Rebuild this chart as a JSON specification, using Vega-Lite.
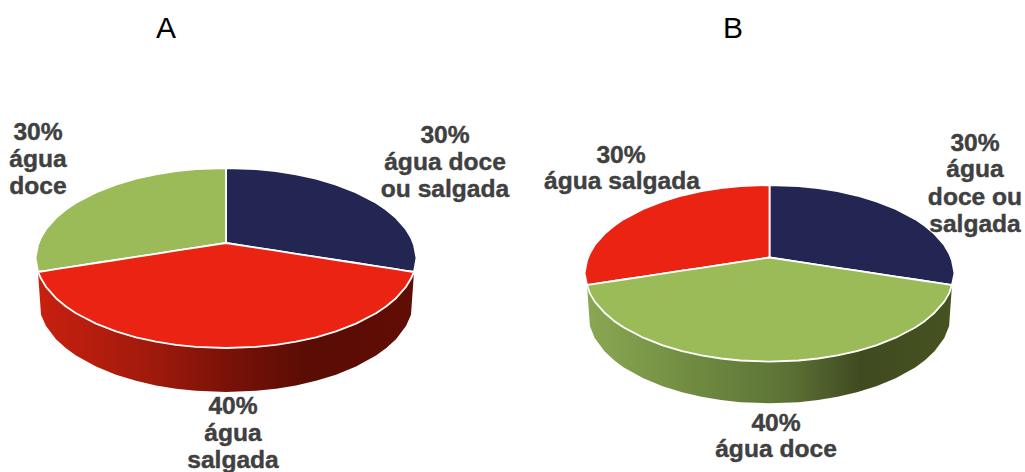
{
  "$schema": "https://vega.github.io/schema/vega-lite/v6.json",
  "width": 1025,
  "height": 472,
  "autosize": "none",
  "padding": 0,
  "background": "white",
  "view": {"stroke": null},
  "config": {"axis": {"disable": true}},
  "datasets": {
    "faces": [
      {"pie":"A","name":"água doce ou salgada","share":30,"x":226,"top":168,"bottom":243},
      {"pie":"A","name":"água doce ou salgada","share":30,"x":256,"top":169.1,"bottom":247.6},
      {"pie":"A","name":"água doce ou salgada","share":30,"x":276,"top":171.2,"bottom":250.7},
      {"pie":"A","name":"água doce ou salgada","share":30,"x":296,"top":174.3,"bottom":253.8},
      {"pie":"A","name":"água doce ou salgada","share":30,"x":316,"top":178.7,"bottom":256.9},
      {"pie":"A","name":"água doce ou salgada","share":30,"x":336,"top":184.6,"bottom":260},
      {"pie":"A","name":"água doce ou salgada","share":30,"x":356,"top":192.4,"bottom":263},
      {"pie":"A","name":"água doce ou salgada","share":30,"x":376,"top":202.8,"bottom":266.1},
      {"pie":"A","name":"água doce ou salgada","share":30,"x":386,"top":209.5,"bottom":267.6},
      {"pie":"A","name":"água doce ou salgada","share":30,"x":396,"top":217.8,"bottom":269.2},
      {"pie":"A","name":"água doce ou salgada","share":30,"x":406,"top":229.2,"bottom":270.8},
      {"pie":"A","name":"água doce ou salgada","share":30,"x":411,"top":237.5,"bottom":271.5},
      {"pie":"A","name":"água doce ou salgada","share":30,"x":414,"top":245,"bottom":272},
      {"pie":"A","name":"água doce ou salgada","share":30,"x":416.5,"top":258,"bottom":258},

      {"pie":"A","name":"água doce","share":30,"x":35.5,"top":258,"bottom":258},
      {"pie":"A","name":"água doce","share":30,"x":38,"top":245,"bottom":272},
      {"pie":"A","name":"água doce","share":30,"x":41,"top":237.5,"bottom":271.5},
      {"pie":"A","name":"água doce","share":30,"x":46,"top":229.2,"bottom":270.8},
      {"pie":"A","name":"água doce","share":30,"x":56,"top":217.8,"bottom":269.2},
      {"pie":"A","name":"água doce","share":30,"x":66,"top":209.5,"bottom":267.6},
      {"pie":"A","name":"água doce","share":30,"x":76,"top":202.8,"bottom":266.1},
      {"pie":"A","name":"água doce","share":30,"x":96,"top":192.4,"bottom":263},
      {"pie":"A","name":"água doce","share":30,"x":116,"top":184.6,"bottom":260},
      {"pie":"A","name":"água doce","share":30,"x":136,"top":178.7,"bottom":256.9},
      {"pie":"A","name":"água doce","share":30,"x":156,"top":174.3,"bottom":253.8},
      {"pie":"A","name":"água doce","share":30,"x":176,"top":171.2,"bottom":250.7},
      {"pie":"A","name":"água doce","share":30,"x":196,"top":169.1,"bottom":247.6},
      {"pie":"A","name":"água doce","share":30,"x":226,"top":168,"bottom":243},

      {"pie":"A","name":"água salgada","share":40,"x":38,"top":272,"bottom":272},
      {"pie":"A","name":"água salgada","share":40,"x":41,"top":271.5,"bottom":278.5},
      {"pie":"A","name":"água salgada","share":40,"x":46,"top":270.8,"bottom":286.8},
      {"pie":"A","name":"água salgada","share":40,"x":56,"top":269.2,"bottom":298.2},
      {"pie":"A","name":"água salgada","share":40,"x":66,"top":267.6,"bottom":306.5},
      {"pie":"A","name":"água salgada","share":40,"x":76,"top":266.1,"bottom":313.2},
      {"pie":"A","name":"água salgada","share":40,"x":96,"top":263,"bottom":323.6},
      {"pie":"A","name":"água salgada","share":40,"x":116,"top":260,"bottom":331.4},
      {"pie":"A","name":"água salgada","share":40,"x":136,"top":256.9,"bottom":337.3},
      {"pie":"A","name":"água salgada","share":40,"x":156,"top":253.8,"bottom":341.7},
      {"pie":"A","name":"água salgada","share":40,"x":176,"top":250.7,"bottom":344.8},
      {"pie":"A","name":"água salgada","share":40,"x":196,"top":247.6,"bottom":346.9},
      {"pie":"A","name":"água salgada","share":40,"x":226,"top":243,"bottom":348},
      {"pie":"A","name":"água salgada","share":40,"x":256,"top":247.6,"bottom":346.9},
      {"pie":"A","name":"água salgada","share":40,"x":276,"top":250.7,"bottom":344.8},
      {"pie":"A","name":"água salgada","share":40,"x":296,"top":253.8,"bottom":341.7},
      {"pie":"A","name":"água salgada","share":40,"x":316,"top":256.9,"bottom":337.3},
      {"pie":"A","name":"água salgada","share":40,"x":336,"top":260,"bottom":331.4},
      {"pie":"A","name":"água salgada","share":40,"x":356,"top":263,"bottom":323.6},
      {"pie":"A","name":"água salgada","share":40,"x":376,"top":266.1,"bottom":313.2},
      {"pie":"A","name":"água salgada","share":40,"x":386,"top":267.6,"bottom":306.5},
      {"pie":"A","name":"água salgada","share":40,"x":396,"top":269.2,"bottom":298.2},
      {"pie":"A","name":"água salgada","share":40,"x":406,"top":270.8,"bottom":286.8},
      {"pie":"A","name":"água salgada","share":40,"x":411,"top":271.5,"bottom":278.5},
      {"pie":"A","name":"água salgada","share":40,"x":414,"top":272,"bottom":272},

      {"pie":"B","name":"água doce ou salgada","share":30,"x":769.5,"top":185,"bottom":257.5},
      {"pie":"B","name":"água doce ou salgada","share":30,"x":798.6,"top":186.1,"bottom":261.9},
      {"pie":"B","name":"água doce ou salgada","share":30,"x":818.1,"top":188.1,"bottom":264.8},
      {"pie":"B","name":"água doce ou salgada","share":30,"x":837.5,"top":191.2,"bottom":267.8},
      {"pie":"B","name":"água doce ou salgada","share":30,"x":856.9,"top":195.5,"bottom":270.7},
      {"pie":"B","name":"água doce ou salgada","share":30,"x":876.3,"top":201.3,"bottom":273.6},
      {"pie":"B","name":"água doce ou salgada","share":30,"x":895.7,"top":208.9,"bottom":276.6},
      {"pie":"B","name":"água doce ou salgada","share":30,"x":915.2,"top":219.1,"bottom":279.5},
      {"pie":"B","name":"água doce ou salgada","share":30,"x":924.9,"top":225.7,"bottom":281},
      {"pie":"B","name":"água doce ou salgada","share":30,"x":934.5,"top":233.9,"bottom":282.4},
      {"pie":"B","name":"água doce ou salgada","share":30,"x":944.3,"top":245,"bottom":283.9},
      {"pie":"B","name":"água doce ou salgada","share":30,"x":949.1,"top":253.2,"bottom":284.6},
      {"pie":"B","name":"água doce ou salgada","share":30,"x":952,"top":260.5,"bottom":285},
      {"pie":"B","name":"água doce ou salgada","share":30,"x":954.5,"top":273.3,"bottom":273.3},

      {"pie":"B","name":"água salgada","share":30,"x":584.5,"top":273.3,"bottom":273.3},
      {"pie":"B","name":"água salgada","share":30,"x":587,"top":260.5,"bottom":285},
      {"pie":"B","name":"água salgada","share":30,"x":589.9,"top":253.2,"bottom":284.6},
      {"pie":"B","name":"água salgada","share":30,"x":594.7,"top":245,"bottom":283.9},
      {"pie":"B","name":"água salgada","share":30,"x":604.5,"top":233.9,"bottom":282.4},
      {"pie":"B","name":"água salgada","share":30,"x":614.1,"top":225.7,"bottom":281},
      {"pie":"B","name":"água salgada","share":30,"x":623.8,"top":219.1,"bottom":279.5},
      {"pie":"B","name":"água salgada","share":30,"x":643.3,"top":208.9,"bottom":276.6},
      {"pie":"B","name":"água salgada","share":30,"x":662.7,"top":201.3,"bottom":273.6},
      {"pie":"B","name":"água salgada","share":30,"x":682.1,"top":195.5,"bottom":270.7},
      {"pie":"B","name":"água salgada","share":30,"x":701.5,"top":191.2,"bottom":267.8},
      {"pie":"B","name":"água salgada","share":30,"x":720.9,"top":188.1,"bottom":264.8},
      {"pie":"B","name":"água salgada","share":30,"x":740.4,"top":186.1,"bottom":261.9},
      {"pie":"B","name":"água salgada","share":30,"x":769.5,"top":185,"bottom":257.5},

      {"pie":"B","name":"água doce","share":40,"x":587,"top":285,"bottom":285},
      {"pie":"B","name":"água doce","share":40,"x":589.9,"top":284.6,"bottom":293.4},
      {"pie":"B","name":"água doce","share":40,"x":594.7,"top":283.9,"bottom":301.6},
      {"pie":"B","name":"água doce","share":40,"x":604.5,"top":282.4,"bottom":312.7},
      {"pie":"B","name":"água doce","share":40,"x":614.1,"top":281,"bottom":320.9},
      {"pie":"B","name":"água doce","share":40,"x":623.8,"top":279.5,"bottom":327.5},
      {"pie":"B","name":"água doce","share":40,"x":643.3,"top":276.6,"bottom":337.7},
      {"pie":"B","name":"água doce","share":40,"x":662.7,"top":273.6,"bottom":345.3},
      {"pie":"B","name":"água doce","share":40,"x":682.1,"top":270.7,"bottom":351.1},
      {"pie":"B","name":"água doce","share":40,"x":701.5,"top":267.8,"bottom":355.4},
      {"pie":"B","name":"água doce","share":40,"x":720.9,"top":264.8,"bottom":358.5},
      {"pie":"B","name":"água doce","share":40,"x":740.4,"top":261.9,"bottom":360.5},
      {"pie":"B","name":"água doce","share":40,"x":769.5,"top":257.5,"bottom":361.6},
      {"pie":"B","name":"água doce","share":40,"x":798.6,"top":261.9,"bottom":360.5},
      {"pie":"B","name":"água doce","share":40,"x":818.1,"top":264.8,"bottom":358.5},
      {"pie":"B","name":"água doce","share":40,"x":837.5,"top":267.8,"bottom":355.4},
      {"pie":"B","name":"água doce","share":40,"x":856.9,"top":270.7,"bottom":351.1},
      {"pie":"B","name":"água doce","share":40,"x":876.3,"top":273.6,"bottom":345.3},
      {"pie":"B","name":"água doce","share":40,"x":895.7,"top":276.6,"bottom":337.7},
      {"pie":"B","name":"água doce","share":40,"x":915.2,"top":279.5,"bottom":327.5},
      {"pie":"B","name":"água doce","share":40,"x":924.9,"top":281,"bottom":320.9},
      {"pie":"B","name":"água doce","share":40,"x":934.5,"top":282.4,"bottom":312.7},
      {"pie":"B","name":"água doce","share":40,"x":944.3,"top":283.9,"bottom":301.6},
      {"pie":"B","name":"água doce","share":40,"x":949.1,"top":284.6,"bottom":293.4},
      {"pie":"B","name":"água doce","share":40,"x":952,"top":285,"bottom":285}
    ],
    "wallA": [
      {"x":38,"top":272,"bottom":272},
      {"x":41,"top":278.5,"bottom":314.7},
      {"x":46,"top":286.8,"bottom":326},
      {"x":56,"top":298.2,"bottom":339.2},
      {"x":66,"top":306.5,"bottom":348.3},
      {"x":76,"top":313.2,"bottom":355.5},
      {"x":96,"top":323.6,"bottom":366.5},
      {"x":116,"top":331.4,"bottom":374.7},
      {"x":136,"top":337.3,"bottom":380.8},
      {"x":156,"top":341.7,"bottom":385.4},
      {"x":176,"top":344.8,"bottom":388.7},
      {"x":196,"top":346.9,"bottom":390.8},
      {"x":226,"top":348,"bottom":392},
      {"x":256,"top":346.9,"bottom":390.8},
      {"x":276,"top":344.8,"bottom":388.7},
      {"x":296,"top":341.7,"bottom":385.4},
      {"x":316,"top":337.3,"bottom":380.8},
      {"x":336,"top":331.4,"bottom":374.7},
      {"x":356,"top":323.6,"bottom":366.5},
      {"x":376,"top":313.2,"bottom":355.5},
      {"x":386,"top":306.5,"bottom":348.3},
      {"x":396,"top":298.2,"bottom":339.2},
      {"x":406,"top":286.8,"bottom":326},
      {"x":411,"top":278.5,"bottom":314.7},
      {"x":414,"top":272,"bottom":272}
    ],
    "wallB": [
      {"x":587,"top":285,"bottom":285},
      {"x":589.9,"top":293.4,"bottom":326},
      {"x":594.7,"top":301.6,"bottom":337.9},
      {"x":604.5,"top":312.7,"bottom":351.3},
      {"x":614.1,"top":320.9,"bottom":360.3},
      {"x":623.8,"top":327.5,"bottom":367.4},
      {"x":643.3,"top":337.7,"bottom":378.3},
      {"x":662.7,"top":345.3,"bottom":386.3},
      {"x":682.1,"top":351.1,"bottom":392.3},
      {"x":701.5,"top":355.4,"bottom":396.8},
      {"x":720.9,"top":358.5,"bottom":400},
      {"x":740.4,"top":360.5,"bottom":402.2},
      {"x":769.5,"top":361.6,"bottom":403.3},
      {"x":798.6,"top":360.5,"bottom":402.2},
      {"x":818.1,"top":358.5,"bottom":400},
      {"x":837.5,"top":355.4,"bottom":396.8},
      {"x":856.9,"top":351.1,"bottom":392.3},
      {"x":876.3,"top":345.3,"bottom":386.3},
      {"x":895.7,"top":337.7,"bottom":378.3},
      {"x":915.2,"top":327.5,"bottom":367.4},
      {"x":924.9,"top":320.9,"bottom":360.3},
      {"x":934.5,"top":312.7,"bottom":351.3},
      {"x":944.3,"top":301.6,"bottom":337.9},
      {"x":949.1,"top":293.4,"bottom":326},
      {"x":952,"top":285,"bottom":285}
    ],
    "labels": [
      {"x":38,"y":140,"text":"30%"},
      {"x":38,"y":167,"text":"água"},
      {"x":38,"y":194,"text":"doce"},
      {"x":445,"y":143,"text":"30%"},
      {"x":445,"y":170,"text":"água doce"},
      {"x":445,"y":197,"text":"ou salgada"},
      {"x":233,"y":414,"text":"40%"},
      {"x":233,"y":441,"text":"água"},
      {"x":233,"y":468,"text":"salgada"},
      {"x":621,"y":163,"text":"30%"},
      {"x":622,"y":189,"text":"água salgada"},
      {"x":975,"y":151,"text":"30%"},
      {"x":975,"y":177,"text":"água"},
      {"x":975,"y":205,"text":"doce ou"},
      {"x":975,"y":232,"text":"salgada"},
      {"x":776,"y":431,"text":"40%"},
      {"x":776,"y":457,"text":"água doce"}
    ],
    "panels": [
      {"x":166,"y":38,"text":"A"},
      {"x":733,"y":38,"text":"B"}
    ]
  },
  "encoding": {
    "x": {"field": "x", "type": "quantitative", "scale": {"domain": [0, 1025], "nice": false, "zero": false}, "axis": null}
  },
  "layer": [
    {
      "data": {"name": "wallA"},
      "mark": {
        "type": "area",
        "fill": {
          "x1": 0, "y1": 0, "x2": 1, "y2": 0,
          "gradient": "linear",
          "stops": [
            {"offset": 0, "color": "#c8200f"},
            {"offset": 0.3, "color": "#a01a0c"},
            {"offset": 0.5, "color": "#7a1208"},
            {"offset": 0.72, "color": "#5a0c05"},
            {"offset": 1, "color": "#600d05"}
          ]
        }
      },
      "encoding": {
        "y": {"field": "top", "type": "quantitative", "scale": {"domain": [472, 0], "nice": false, "zero": false}, "axis": null},
        "y2": {"field": "bottom"}
      }
    },
    {
      "data": {"name": "wallB"},
      "mark": {
        "type": "area",
        "fill": {
          "x1": 0, "y1": 0, "x2": 1, "y2": 0,
          "gradient": "linear",
          "stops": [
            {"offset": 0, "color": "#8aa853"},
            {"offset": 0.3, "color": "#6f8a40"},
            {"offset": 0.55, "color": "#5c7236"},
            {"offset": 0.75, "color": "#3f4a20"},
            {"offset": 1, "color": "#46531f"}
          ]
        }
      },
      "encoding": {
        "y": {"field": "top", "type": "quantitative", "scale": {"domain": [472, 0], "nice": false, "zero": false}, "axis": null},
        "y2": {"field": "bottom"}
      }
    },
    {
      "data": {"name": "faces"},
      "mark": {"type": "area", "stroke": "white", "strokeWidth": 1.8, "strokeJoin": "round"},
      "encoding": {
        "y": {"field": "top", "type": "quantitative", "scale": {"domain": [472, 0], "nice": false, "zero": false}, "axis": null},
        "y2": {"field": "bottom"},
        "detail": {"field": "pie"},
        "fill": {
          "field": "name",
          "type": "nominal",
          "legend": null,
          "scale": {
            "domain": ["água doce ou salgada", "água doce", "água salgada"],
            "range": ["#232553", "#9bbb59", "#ea2312"]
          }
        }
      }
    },
    {
      "data": {"name": "labels"},
      "mark": {"type": "text", "align": "center", "baseline": "alphabetic", "font": "Liberation Sans", "fontWeight": "bold", "fontSize": 24.6, "fill": "#404040", "stroke": "#404040", "strokeWidth": 0.4},
      "encoding": {
        "y": {"field": "y", "type": "quantitative", "scale": {"domain": [472, 0], "nice": false, "zero": false}, "axis": null},
        "text": {"field": "text"}
      }
    },
    {
      "data": {"name": "panels"},
      "mark": {"type": "text", "align": "center", "baseline": "alphabetic", "font": "Liberation Sans", "fontSize": 30, "fill": "#000000"},
      "encoding": {
        "y": {"field": "y", "type": "quantitative", "scale": {"domain": [472, 0], "nice": false, "zero": false}, "axis": null},
        "text": {"field": "text"}
      }
    }
  ]
}
